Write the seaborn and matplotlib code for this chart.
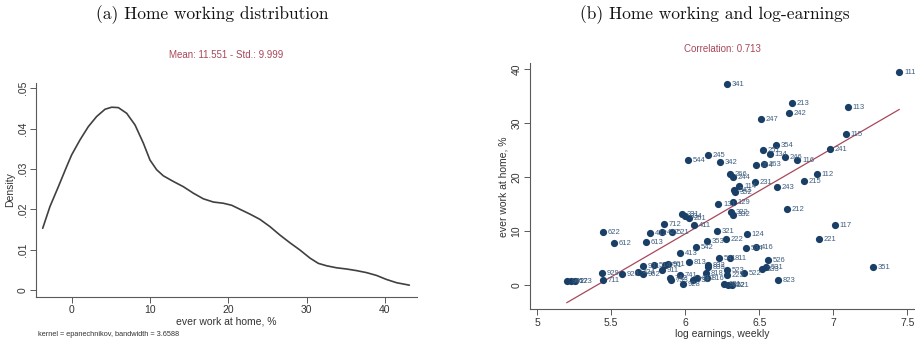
import numpy as np
import pandas as pd
import matplotlib
matplotlib.use("Agg")
import matplotlib.pyplot as plt
import seaborn as sns

# ---------------- data ----------------
# (a) kernel density of "ever work at home, %"
kd_x = [-3.70, -2.77, -1.70, -0.64, 0.00, 1.06, 2.13, 3.19, 4.26, 5.11, 5.96, 7.02,
        8.09, 9.15, 10.0, 10.85, 11.70, 12.98, 14.26, 15.53, 16.81, 18.09, 19.36,
        20.43, 21.49, 22.77, 24.04, 25.32, 26.60, 27.87, 29.15, 30.43, 31.49, 32.55,
        33.83, 35.11, 36.38, 37.66, 38.94, 40.21, 41.49, 43.11]
kd_y = [0.0153, 0.0207, 0.0256, 0.0306, 0.0335, 0.0372, 0.0405, 0.0430, 0.0448,
        0.0453, 0.0452, 0.0438, 0.0409, 0.0364, 0.0322, 0.0298, 0.0283, 0.0269,
        0.0256, 0.0240, 0.0226, 0.0218, 0.0215, 0.0210, 0.0200, 0.0188, 0.0175,
        0.0157, 0.0136, 0.0117, 0.0099, 0.0079, 0.0066, 0.0060, 0.0055, 0.0052,
        0.0048, 0.0043, 0.0036, 0.0026, 0.0018, 0.0012]

# (b) occupations: log weekly earnings vs ever work at home (%)
occ_code = ["111", "341", "213", "113", "242", "247", "115", "354", "251", "134",
            "241", "246", "116", "245", "544", "342", "264", "263", "112", "266",
            "244", "215", "231", "243", "114", "343", "352", "212", "131", "129",
            "322", "332", "117", "331", "334", "261", "411", "712", "412", "422",
            "521", "622", "612", "613", "321", "124", "222", "353", "542", "534",
            "416", "221", "413", "813", "541", "811", "832", "833", "526", "531",
            "333", "351", "523", "522", "225", "823", "921", "822", "621", "818",
            "816", "812", "732", "928", "741", "742", "753", "931", "514", "751",
            "961", "911", "424", "962", "926", "929", "711", "941", "952", "273"]
log_earn = [7.446, 6.279, 6.723, 7.097, 6.700, 6.511, 7.083, 6.613, 6.523, 6.572,
            6.977, 6.674, 6.757, 6.155, 6.020, 6.234, 6.478, 6.532, 6.887, 6.302,
            6.320, 6.802, 6.471, 6.622, 6.365, 6.329, 6.338, 6.685, 6.223, 6.320,
            6.309, 6.324, 7.011, 5.980, 6.000, 6.027, 6.059, 5.856, 5.764, 5.842,
            5.910, 5.442, 5.516, 5.735, 6.216, 6.414, 6.273, 6.144, 6.072, 6.410,
            6.477, 6.903, 5.964, 6.023, 6.225, 6.304, 6.151, 6.155, 6.559, 6.545,
            6.520, 7.268, 6.279, 6.399, 6.281, 6.628, 6.264, 6.286, 6.313, 6.137,
            6.144, 6.081, 6.054, 5.982, 5.964, 5.894, 5.901, 5.714, 5.788, 5.863,
            5.885, 5.840, 5.683, 5.712, 5.570, 5.435, 5.446, 5.199, 5.228, 5.255]
home_pct = [39.4, 37.16, 33.76, 33.01, 31.78, 30.66, 27.94, 25.9, 24.9, 24.25,
            25.16, 23.64, 23.13, 24.06, 23.06, 22.82, 22.2, 22.4, 20.46, 20.48,
            20.04, 19.17, 19.0, 18.07, 18.31, 17.57, 17.2, 14.04, 14.97, 15.4,
            13.55, 13.0, 11.0, 13.1, 12.74, 12.3, 11.13, 11.19, 9.58, 9.83,
            9.77, 9.72, 7.68, 7.92, 9.89, 9.34, 8.53, 8.16, 7.05, 6.80,
            6.92, 8.41, 5.81, 4.14, 5.01, 4.88, 3.65, 3.34, 4.51, 3.34,
            2.91, 3.28, 2.72, 2.16, 1.73, 0.87, 0.06, 0.0, 0.0, 2.10,
            1.30, 1.17, 0.87, 0.06, 1.79, 1.30, 0.87, 3.52, 3.59, 3.65,
            3.77, 2.72, 2.30, 1.92, 1.92, 2.11, 0.87, 0.69, 0.74, 0.74]

# fitted line
fit_slope = 15.95
fit_intercept = -86.27

mean_text = "Mean: 11.551 - Std.: 9.999"
corr_text = "Correlation: 0.713"
kernel_note = "kernel = epanechnikov, bandwidth = 3.6588"

# ---------------- style ----------------
sns.set_theme(style="white")
plt.rcParams['font.family'] = ['Liberation Sans', 'DejaVu Sans']
plt.rcParams['lines.solid_joinstyle'] = 'round'

AX_COL = "#5a5a5a"
NAVY = "#1a3f66"
MAROON = "#a8485a"

fig = plt.figure(figsize=(9.15, 3.46), dpi=100)
ax1 = fig.add_axes([0.0393, 0.1425, 0.4161, 0.6176])
ax2 = fig.add_axes([0.5792, 0.1061, 0.4208, 0.711])

# ----- (a) density -----
kd = pd.DataFrame({"x": kd_x, "y": kd_y})
sns.lineplot(data=kd, x="x", y="y", ax=ax1, color="#404040", lw=1.2, sort=False)
ax1.set_xlim(-4.56, 44.05)
ax1.set_ylim(-0.00166, 0.0513)
ax1.set_xticks([0, 10, 20, 30, 40])
ax1.set_yticks([0, 0.01, 0.02, 0.03, 0.04, 0.05])
ax1.set_yticklabels(["0", ".01", ".02", ".03", ".04", ".05"])
ax1.set_xlabel("ever work at home, %", fontsize=7.5, labelpad=1, color="#333333")
ax1.set_ylabel("Density", fontsize=7.5, labelpad=2, color="#333333")
ax1.text(0.5, 1.13, mean_text, transform=ax1.transAxes, ha="center", va="center",
         fontsize=7, color=MAROON)
fig.text(38 / 915, 1 - 335 / 346, kernel_note, ha="left", va="center",
         fontsize=5.3, color="#333333")

# ----- (b) scatter -----
sc = pd.DataFrame({"code": occ_code, "earn": log_earn, "home": home_pct})
sns.scatterplot(data=sc, x="earn", y="home", ax=ax2, color=NAVY, s=27,
                linewidth=0, zorder=3)
for c, xv, yv in zip(occ_code, log_earn, home_pct):
    ax2.annotate(c, (xv, yv), xytext=(3.4, -0.3), textcoords="offset points",
                 ha="left", va="center", fontsize=5.5, color="#3f5f80", zorder=4)
xfit = np.array([min(log_earn), max(log_earn)])
sns.lineplot(x=xfit, y=fit_intercept + fit_slope * xfit, ax=ax2,
             color=MAROON, lw=0.9, zorder=2)
ax2.set_xlim(4.951, 7.552)
ax2.set_ylim(-4.56, 41.05)
ax2.set_xticks([5, 5.5, 6, 6.5, 7, 7.5])
ax2.set_xticklabels(["5", "5.5", "6", "6.5", "7", "7.5"])
ax2.set_yticks([0, 10, 20, 30, 40])
ax2.set_xlabel("log earnings, weekly", fontsize=7.5, labelpad=1, color="#333333")
ax2.set_ylabel("ever work at home, %", fontsize=7.5, labelpad=2, color="#333333")
ax2.text(0.5, 1.06, corr_text, transform=ax2.transAxes, ha="center", va="center",
         fontsize=7, color=MAROON)

for ax in (ax1, ax2):
    sns.despine(ax=ax)
    for s in ("left", "bottom"):
        ax.spines[s].set_color(AX_COL)
        ax.spines[s].set_linewidth(0.8)
    ax.tick_params(axis="both", direction="out", length=4, width=0.7,
                   color=AX_COL, labelsize=7.5, pad=2, labelcolor="#333333",
                   left=True, bottom=True)
    for lab in ax.get_yticklabels():
        lab.set_rotation(90)
        lab.set_va("center")
        lab.set_ha("right")

# panel titles
fig.text(212 / 915, 1 - 15 / 346, "(a) Home working distribution",
         family="cmr10", fontsize=12.5, ha="center", va="center", color="#111111")
fig.text(715 / 915, 1 - 15 / 346, "(b) Home working and log-earnings",
         family="cmr10", fontsize=12.5, ha="center", va="center", color="#111111")

fig.savefig("out.png", dpi=100)
